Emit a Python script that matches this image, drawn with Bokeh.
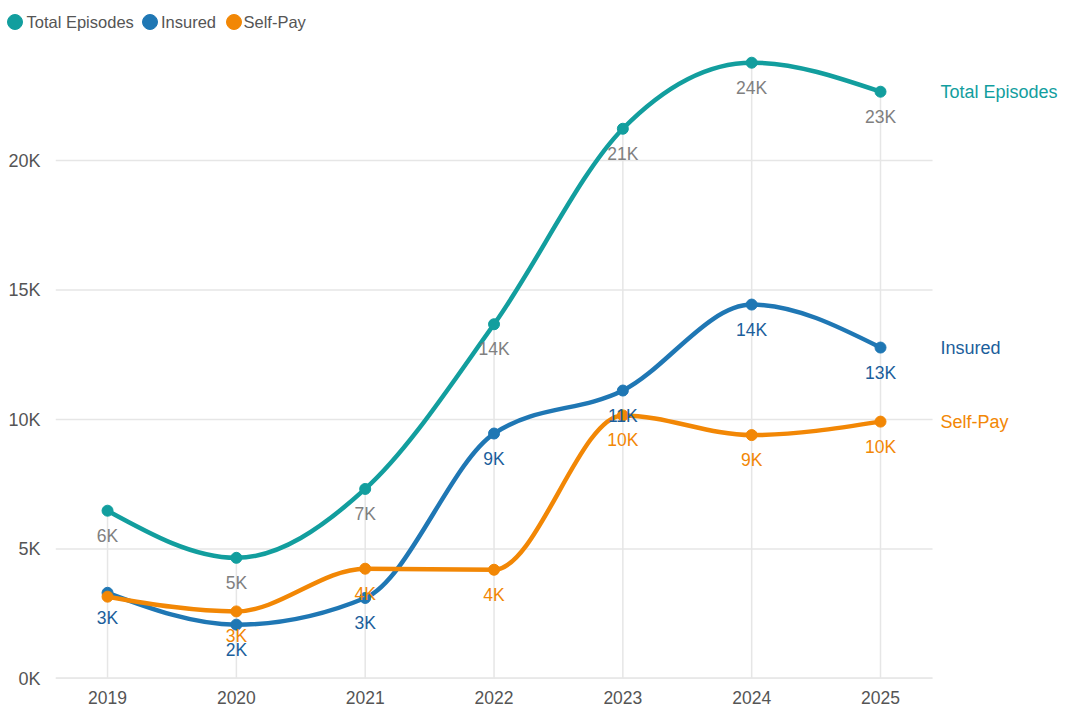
from bokeh.plotting import figure
from bokeh.models import FixedTicker, Range1d, ColumnDataSource
from bokeh.core.properties import value
from bokeh.embed import file_html
from bokeh.resources import INLINE

# ---- data -------------------------------------------------------------
years = [2019, 2020, 2021, 2022, 2023, 2024, 2025]
total_episodes = [6480, 4660, 7320, 13680, 21230, 23780, 22660]
insured = [3310, 2080, 3110, 9460, 11120, 14440, 12780]
self_pay = [3160, 2590, 4240, 4200, 10160, 9400, 9920]
y_ticks = [0, 5000, 10000, 15000, 20000]

series_names = ["Total Episodes", "Insured", "Self-Pay"]
series_values = [total_episodes, insured, self_pay]

# ---- styles -----------------------------------------------------------
FONT = "Liberation Sans"
line_colors = ["#129E9E", "#1F77B4", "#F28705"]
value_label_colors = ["#808080", "#1B5E9B", "#F28705"]
end_label_colors = ["#129E9E", "#1B5E9B", "#F28705"]
GRID = "#E6E6E6"
TICK_TEXT = "#555555"

W, H_LEGEND, H_MAIN = 1065, 42, 672
# x extent of the gridded area (the frame itself reaches the right edge so
# the series names at the line ends stay visible)
GRID_X0, GRID_X1 = 2018.596, 2025.404
MIN_LABEL_GAP = 300  # values closer than this at one year share one label


def _sign(v):
    return -1.0 if v < 0 else 1.0


def monotone_tangents(xs, ys):
    """Tangents of a monotone cubic (Fritsch-Carlson / d3 curveMonotoneX)."""
    n = len(xs)
    t = [0.0] * n
    for i in range(1, n - 1):
        h0 = xs[i] - xs[i - 1]
        h1 = xs[i + 1] - xs[i]
        s0 = (ys[i] - ys[i - 1]) / h0
        s1 = (ys[i + 1] - ys[i]) / h1
        p = (s0 * h1 + s1 * h0) / (h0 + h1)
        t[i] = (_sign(s0) + _sign(s1)) * min(abs(s0), abs(s1), 0.5 * abs(p))
    h = xs[1] - xs[0]
    t[0] = (3 * (ys[1] - ys[0]) / h - t[1]) / 2
    h = xs[-1] - xs[-2]
    t[-1] = (3 * (ys[-1] - ys[-2]) / h - t[-2]) / 2
    return t


def bezier_source(xs, ys):
    t = monotone_tangents(xs, ys)
    d = dict(x0=[], y0=[], x1=[], y1=[], cx0=[], cy0=[], cx1=[], cy1=[])
    for i in range(len(xs) - 1):
        dx = (xs[i + 1] - xs[i]) / 3
        d["x0"].append(xs[i]); d["y0"].append(ys[i])
        d["x1"].append(xs[i + 1]); d["y1"].append(ys[i + 1])
        d["cx0"].append(xs[i] + dx); d["cy0"].append(ys[i] + dx * t[i])
        d["cx1"].append(xs[i + 1] - dx); d["cy1"].append(ys[i + 1] - dx * t[i + 1])
    return ColumnDataSource(d)


# ---- main chart -------------------------------------------------------
p = figure(
    width=W, height=H_MAIN,
    x_range=Range1d(GRID_X0, 2026.436), y_range=Range1d(0, 24290),
    output_backend="svg", toolbar_location=None,
    min_border_left=55, min_border_right=0,
    min_border_top=7, min_border_bottom=36,
)
p.outline_line_color = None
p.grid.visible = False

p.xaxis.ticker = FixedTicker(ticks=years)
p.xaxis.major_label_overrides = {y: str(y) for y in years}
p.yaxis.ticker = FixedTicker(ticks=y_ticks)
p.yaxis.major_label_overrides = {t: f"{t // 1000}K" for t in y_ticks}
for ax in (p.xaxis, p.yaxis):
    ax.major_tick_line_color = None
    ax.minor_tick_line_color = None
    ax.axis_line_color = None
    ax.major_label_text_font = FONT
    ax.major_label_text_color = TICK_TEXT
p.xaxis.major_label_text_font_size = "17.5px"
p.yaxis.major_label_text_font_size = "18px"
p.xaxis.major_label_standoff = 6
p.yaxis.major_label_standoff = 9

# horizontal grid lines and baseline, limited to the gridded area
p.segment(x0=[GRID_X0] * len(y_ticks), y0=y_ticks,
          x1=[GRID_X1] * len(y_ticks), y1=y_ticks,
          line_color=GRID, line_width=1.5)
p.segment(x0=[GRID_X0], y0=[0], x1=[GRID_X1], y1=[0],
          line_color="#DDDDDD", line_width=2)

# vertical drop lines from each year's highest value down to zero
col_max = [max(v) for v in zip(*series_values)]
p.segment(x0=years, y0=[0] * len(years), x1=years, y1=col_max,
          line_color=GRID, line_width=1.5)

# smooth series lines + markers
for vals, color in zip(series_values, line_colors):
    src = bezier_source(years, vals)
    p.bezier(x0="x0", y0="y0", x1="x1", y1="y1", cx0="cx0", cy0="cy0",
             cx1="cx1", cy1="cy1", source=src, line_color=color,
             line_width=4.5, line_cap="round")
    p.scatter(years, vals, size=11, fill_color=color, line_color=color)

# value labels under each point; a label is dropped when an earlier
# series already has one at nearly the same height in that year
placed = {y: [] for y in years}
for vals, color in zip(series_values, value_label_colors):
    xs, ys, texts = [], [], []
    for yr, v in zip(years, vals):
        if any(abs(v - o) < MIN_LABEL_GAP for o in placed[yr]):
            continue
        placed[yr].append(v)
        xs.append(yr); ys.append(v); texts.append(f"{round(v / 1000)}K")
    p.text(xs, ys, text=texts,
           text_align="center", text_baseline="middle", y_offset=25,
           text_color=color, text_font=value(FONT), text_font_size="17.5px")

# series names at the right end of each line
p.text([years[-1]] * 3, [v[-1] for v in series_values], text=series_names,
       x_offset=60, text_baseline="middle", text_color=end_label_colors,
       text_font=value(FONT), text_font_size="18px")

# ---- legend strip -----------------------------------------------------
leg = figure(
    width=W, height=H_LEGEND,
    x_range=Range1d(0, W), y_range=Range1d(H_LEGEND, 0),
    output_backend="svg", toolbar_location=None,
    min_border=0, min_border_left=0, min_border_right=0,
    min_border_top=0, min_border_bottom=0,
)
leg.axis.visible = False
leg.grid.visible = False
leg.outline_line_color = None
marker_x = [14.5, 149.5, 233.5]
label_x = [26, 160.5, 243]
leg.scatter(marker_x, [21.5] * 3, size=15, fill_color=line_colors,
            line_color=line_colors)
leg.text(label_x, [21] * 3, text=series_names, text_baseline="middle",
         text_color="#555555", text_font=value(FONT), text_font_size="16.5px")

open("out.html", "w").write(file_html([leg, p], INLINE))
